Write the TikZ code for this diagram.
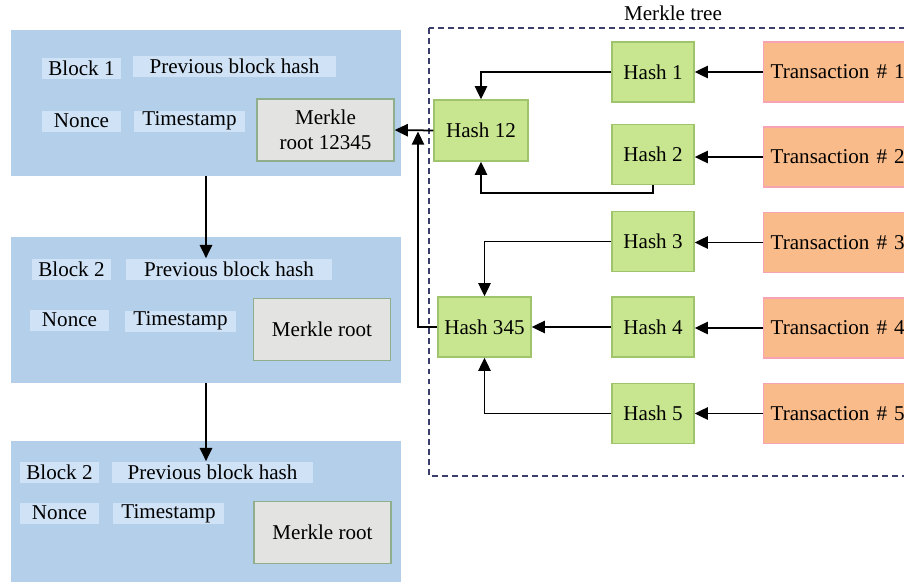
\documentclass[tikz,border=0pt]{standalone}
\usepackage{fontspec}
\setmainfont{Liberation Serif}
\usetikzlibrary{arrows.meta}
\definecolor{blockblue}{HTML}{B4CFEA}
\definecolor{fieldblue}{HTML}{CFE2F6}
\definecolor{rootgrey}{HTML}{E3E3E1}
\definecolor{rootedge}{HTML}{8FAF8C}
\definecolor{hashgreen}{HTML}{C8E68F}
\definecolor{hashedge}{HTML}{A0C46C}
\definecolor{transorange}{HTML}{F9BB8A}
\definecolor{transedge}{HTML}{F6A3B3}
\definecolor{treeedge}{HTML}{3B3D6B}

\begin{document}
\begin{tikzpicture}[x=0.02cm, y=-0.02cm, font=\fontsize{12}{14.5}\selectfont,
    block/.style={fill=blockblue, minimum width=7.8cm, minimum height=2.92cm, inner sep=0pt},
    field/.style={fill=fieldblue, inner sep=0pt, minimum height=0.42cm},
    root/.style={draw=rootedge, fill=rootgrey, line width=0.8pt, minimum width=2.74cm, minimum height=1.24cm, align=center},
    hash/.style={draw=hashedge, fill=hashgreen, line width=0.8pt, minimum width=1.64cm, minimum height=1.2cm},
    trans/.style={draw=transedge, fill=transorange, line width=0.8pt, anchor=west, minimum height=1.2cm, text width=2.76cm, inner sep=0.14cm, align=left},
    link/.style={line width=1pt, -{Triangle[length=7.5pt, width=7pt]}}]
    \useasboundingbox (0, 0) rectangle (904, 582);
    \clip (0, 0) rectangle (904, 582);

    % blocks
    \node[block] (blk1) at (206, 103) {};
    \node[field, minimum width=1.58cm] (num1) at (81.5, 68) {Block 1};
    \node[field, minimum width=4.06cm] (prev1) at (234.5, 66) {Previous block hash};
    \node[field, minimum width=1.58cm] (nonce1) at (81.5, 121) {Nonce};
    \node[field, minimum width=2.22cm] (time1) at (189.5, 121) {Timestamp};
    \node[root] (mr1) at (325.5, 130) {Merkle\\root 12345};

    \node[block] (blk2) at (206, 310) {};
    \node[field, minimum width=1.58cm] (num2) at (71.5, 269.5) {Block 2};
    \node[field, minimum width=4.12cm] (prev2) at (229, 269) {Previous block hash};
    \node[field, minimum width=1.58cm] (nonce2) at (69.5, 320) {Nonce};
    \node[field, minimum width=2.22cm] (time2) at (180.5, 321) {Timestamp};
    \node[root] (mr2) at (322, 329.5) {Merkle root};

    \node[block] (blk3) at (206, 514) {};
    \node[field, minimum width=1.58cm] (num3) at (59.5, 472.5) {Block 2};
    \node[field, minimum width=4.02cm] (prev3) at (212.5, 472) {Previous block hash};
    \node[field, minimum width=1.58cm] (nonce3) at (59.5, 513) {Nonce};
    \node[field, minimum width=2.22cm] (time3) at (168.5, 513.5) {Timestamp};
    \node[root] (mr3) at (322.5, 532.5) {Merkle root};

    \draw[link] (blk1.south) -- (blk1.south |- prev2.north);
    \draw[link] (blk2.south) -- (blk2.south |- prev3.north);

    % merkle tree
    \draw[treeedge, line width=0.6pt, dash pattern=on 3.4pt off 2.3pt] (429, 28) rectangle (915, 476);
    \node (title) at (673, 13) {Merkle tree};

    \node[hash] (h1) at (653, 72) {Hash 1};
    \node[hash] (h2) at (653, 154.5) {Hash 2};
    \node[hash] (h3) at (653, 241.5) {Hash 3};
    \node[hash] (h4) at (653, 327) {Hash 4};
    \node[hash] (h5) at (653, 413.5) {Hash 5};
    \node[hash, minimum width=1.88cm, minimum height=1.22cm] (h12) at (481, 130.5) {Hash 12};
    \node[hash, minimum width=1.86cm] (h345) at (484.5, 327) {Hash 345};

    \node[trans] (t1) at (763, 72) {Transaction \# 1};
    \node[trans] (t2) at (763, 157) {Transaction \# 2};
    \node[trans] (t3) at (763, 242.5) {Transaction \# 3};
    \node[trans] (t4) at (763, 328) {Transaction \# 4};
    \node[trans] (t5) at (763, 413.5) {Transaction \# 5};

    \foreach \i in {1, ..., 5}
        \draw[link] (t\i.west) -- (t\i.west -| h\i.east);

    \draw[link] (h1.west) -| (h12.north);
    \draw[link] (h2.south) -- ++(0, 8) -| (h12.south);
    \draw[link] (h3.west) -| (h345.north);
    \draw[link] (h4.west) -- (h345.east);
    \draw[link] (h5.west) -| (h345.south);

    \draw[link] (h12.west) -- (mr1.east);
    \coordinate (join) at (418, 131.5);
    \draw[link] (h345.west) -| (join);
\end{tikzpicture}
\end{document}
